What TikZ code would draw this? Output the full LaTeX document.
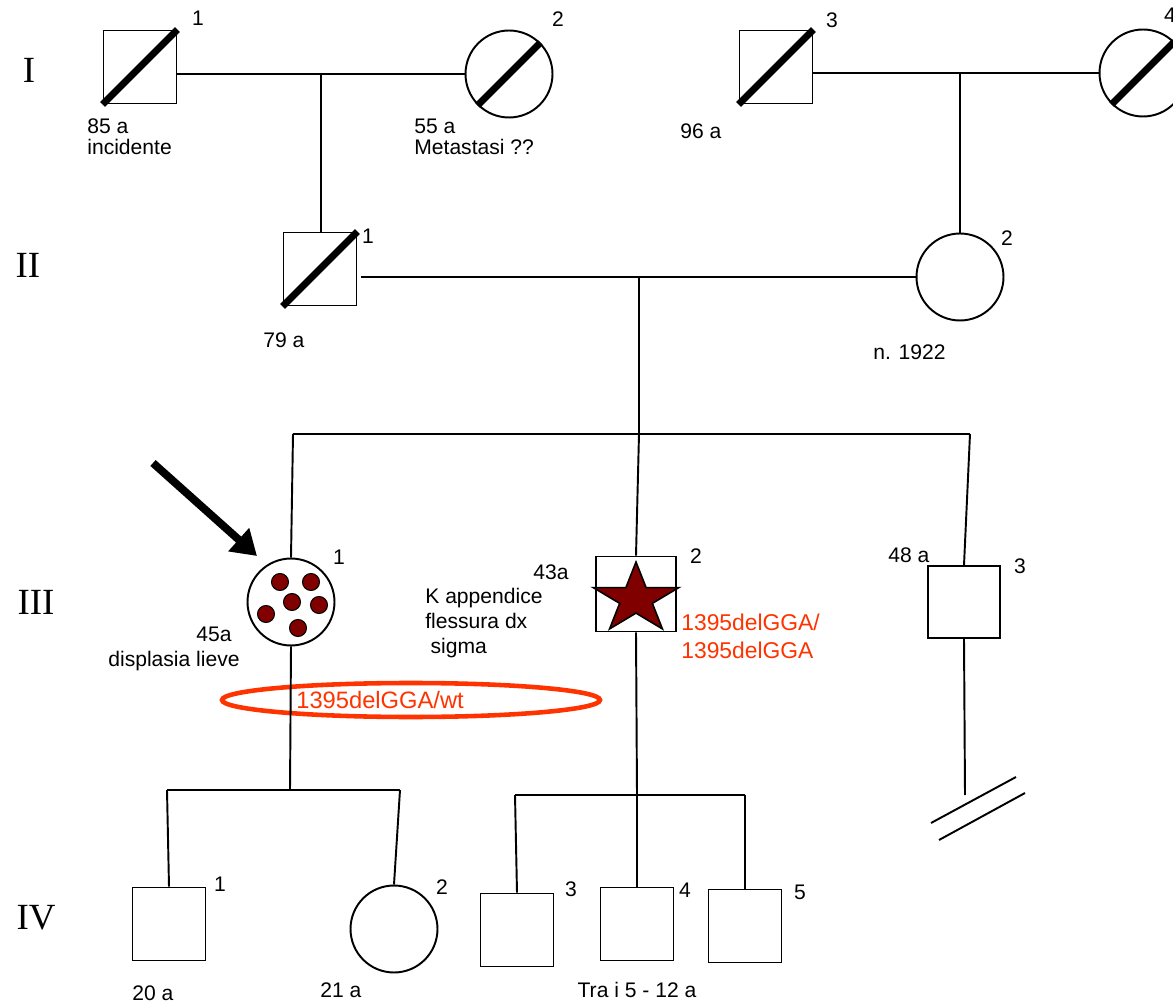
\documentclass[tikz,border=0pt]{standalone}
\usepackage{fontspec}
\setmainfont{Liberation Sans}
\newfontfamily\genfont{Liberation Serif}
\usetikzlibrary{arrows.meta}
\definecolor{dotred}{HTML}{800000}
\definecolor{genered}{HTML}{FF3300}

\tikzset{
  male/.style={draw, rectangle, line width=1.1pt, minimum size=1.46cm, inner sep=0pt},
  female/.style={draw, circle, line width=1.1pt, minimum size=1.74cm, inner sep=0pt},
  line/.style={line width=1.1pt},
  dead/.style={line width=4pt},
  gen/.style={font=\genfont\fontsize{21}{21}\selectfont, inner sep=0pt},
  lbl/.style={font=\fontsize{12}{12}\selectfont, inner sep=0pt, anchor=west, align=left},
  idx/.style={font=\fontsize{12}{12}\selectfont, inner sep=0pt},
  mut/.style={text=genered, font=\fontsize{13}{16}\selectfont, inner sep=0pt, anchor=west, align=left},
}

\begin{document}
\begin{tikzpicture}[x=0.02cm, y=0.02cm]
\useasboundingbox (0,0) rectangle (1173,-1006);

% generations
\node[gen] (gI) at (29,-70) {I};
\node[gen] (gII) at (28,-265) {II};
\node[gen] (gIII) at (36,-602) {III};
\node[gen] (gIV) at (36,-918) {IV};

% generation I
\node[male] (i1) at (140,-67) {};
\node[female] (i2) at (509,-74) {};
\node[male] (i3) at (776,-67) {};
\node[female] (i4) at (1143,-73) {};
\draw[dead] (i1.south west) -- (i1.north east);
\draw[dead] (i2.south west) -- (i2.north east);
\draw[dead] (i3.south west) -- (i3.north east);
\draw[dead] (i4.south west) -- (i4.north east);
\node[idx] (n-i1) at (198,-18) {1};
\node[idx] (n-i2) at (558,-19) {2};
\node[idx] (n-i3) at (832,-20) {3};
\node[idx] (n-i4) at (1170,-15) {4};
\node[lbl, align=left] (a-i1) at (87,-137) {85 a\\incidente};
\node[lbl, align=left] (a-i2) at (414,-137) {55 a\\Metastasi ??};
\node[lbl] (a-i3) at (680,-131) {96 a};

\coordinate (m1) at (321,-74);
\coordinate (m2) at (960,-73);
\draw[line] (i1.east |- i2.west) -- (i2.west);
\draw[line] (i3.east |- i4.west) -- (i4.west);

% generation II
\node[male] (ii1) at (320,-269) {};
\node[female] (ii2) at (960,-277) {};
\draw[dead] (ii1.south west) -- (ii1.north east);
\node[idx] (n-ii1) at (368,-236) {1};
\node[idx] (n-ii2) at (1007,-238) {2};
\node[lbl] (a-ii1) at (263,-340) {79 a};
\node[lbl] (a-ii2) at (873,-352) {n. 1922};

\draw[line] (m1) -- (m1 |- ii1.north);
\draw[line] (m2) -- (ii2.north);
\draw[line] ([xshift=2pt]ii1.east |- ii2.west) -- (ii2.west);

\coordinate (m3) at (639,-277);
\coordinate (s3) at (639,-434);
\coordinate (s3l) at (293,-434);
\coordinate (s3r) at (970,-434);
\draw[line] (m3) -- (s3);
\draw[line] (s3l) -- (s3r);

% generation III
\node[female] (iii1) at (291,-602) {};
\node[male, minimum width=1.6cm, minimum height=1.5cm] (iii2) at (636,-594) {};
\node[male, minimum size=1.44cm] (iii3) at (964,-602) {};
\draw[line] (s3l) -- (iii1.north);
\draw[line] (s3) -- (iii2.north);
\draw[line] (s3r) -- (iii3.north);

\foreach \dx/\dy in {-11/20, 20/20, 1/0, 28/-3, -25/-12, 7/-26}
  \filldraw[fill=dotred, line width=0.6pt] ([shift={(\dx,\dy)}]iii1) circle (8.5);

\coordinate (st) at (636,-599);
\draw[line width=0.9pt, fill=dotred] ([shift={(90:45 and 37)}]st)
  \foreach \a in {90,162,234,306,378} {-- ([shift={(\a+36:17.2 and 14.1)}]st) -- ([shift={(\a+72:45 and 37)}]st)} -- cycle;

\coordinate (pa) at (153,-463);
\coordinate (pb) at (257,-556);
\draw[line width=4.5pt, -{Triangle[length=14pt, width=17pt]}] (pa) -- (pb);

\node[idx] (n-iii1) at (339,-557) {1};
\node[idx] (n-iii2) at (696,-556) {2};
\node[idx] (n-iii3) at (1020,-566) {3};
\node[lbl] (a-iii1) at (196,-634) {45a};
\node[lbl] (d-iii1) at (108,-661) {displasia lieve};
\node[lbl] (a-iii2) at (533,-572) {43a};
\node[lbl, font=\fontsize{12}{14}\selectfont] (d-iii2) at (425,-623) {K appendice\\flessura dx\\\hspace*{3pt}sigma};
\node[lbl] (a-iii3) at (888,-555) {48 a};
\node[mut] (g-iii2) at (681,-636) {1395delGGA/\\1395delGGA};

\draw[genered, line width=2.6pt] (411,-700) ellipse (189 and 17);
\node[mut, font=\fontsize{13.5}{16}\selectfont] (g-iii1) at (296,-700) {1395delGGA/wt};

\coordinate (s4) at (290,-790);
\coordinate (s4l) at (167,-790);
\coordinate (s4r) at (400,-790);
\coordinate (s5) at (637,-795);
\coordinate (s5l) at (515,-795);
\coordinate (s5r) at (745,-795);
\coordinate (t3) at (965,-795);
\draw[line] (iii1.south) -- (s4);
\draw[line] (s4l) -- (s4r);
\draw[line] (iii2.south) -- (s5);
\draw[line] (s5l) -- (s5r);
\draw[line] (iii3.south) -- (t3);
\draw[line] (931,-823) -- (1016,-777);
\draw[line] (939,-840) -- (1025,-793);

% generation IV
\node[male] (iv1) at (169,-924) {};
\node[female] (iv2) at (394,-929) {};
\node[male] (iv3) at (517,-930) {};
\node[male] (iv4) at (637,-924) {};
\node[male] (iv5) at (745,-926) {};
\draw[line] (s4l) -- (iv1.north);
\draw[line] (s4r) -- (iv2.north);
\draw[line] (s5l) -- (iv3.north);
\draw[line] (s5) -- (iv4.north);
\draw[line] (s5r) -- (iv5.north);
\node[idx] (n-iv1) at (220,-884) {1};
\node[idx] (n-iv2) at (442,-887) {2};
\node[idx] (n-iv3) at (571,-889) {3};
\node[idx] (n-iv4) at (685,-890) {4};
\node[idx] (n-iv5) at (800,-892) {5};
\node[lbl] (a-iv1) at (132,-993) {20 a};
\node[lbl] (a-iv2) at (320,-990) {21 a};
\node[idx] (a-iv3) at (637,-990) {Tra i 5 - 12 a};
\end{tikzpicture}
\end{document}
